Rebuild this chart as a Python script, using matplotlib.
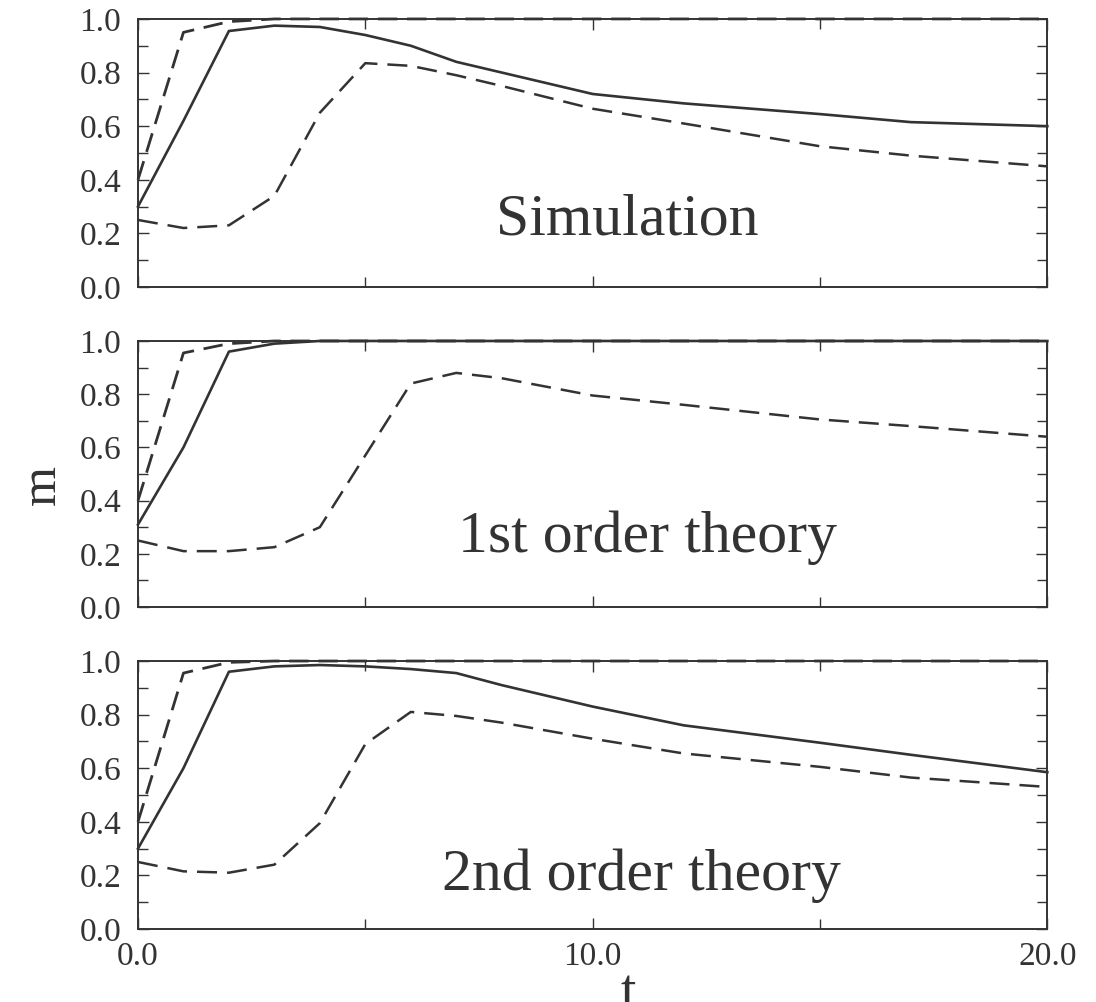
import matplotlib
matplotlib.use("Agg")
import matplotlib.pyplot as plt
from matplotlib.ticker import MultipleLocator, FormatStrFormatter

plt.rcParams['font.family'] = ['Liberation Serif', 'DejaVu Serif']

# tiempos de muestreo
t = [0, 1, 2, 3, 4, 5, 6, 7, 8, 10, 12, 15, 17, 20]

# Simulation
sim_solid = [0.30, 0.62, 0.955, 0.975, 0.97, 0.94, 0.90, 0.84, 0.80, 0.72, 0.685, 0.645, 0.615, 0.60]
sim_upper = [0.40, 0.95, 0.99, 1.0, 1.0, 1.0, 1.0, 1.0, 1.0, 1.0, 1.0, 1.0, 1.0, 1.0]
sim_lower = [0.25, 0.22, 0.23, 0.34, 0.65, 0.835, 0.825, 0.79, 0.75, 0.665, 0.61, 0.525, 0.49, 0.45]

# 1st order theory
first_solid = [0.31, 0.60, 0.96, 0.99, 1.0, 1.0, 1.0, 1.0, 1.0, 1.0, 1.0, 1.0, 1.0, 1.0]
first_upper = [0.40, 0.955, 0.99, 1.0, 1.0, 1.0, 1.0, 1.0, 1.0, 1.0, 1.0, 1.0, 1.0, 1.0]
first_lower = [0.25, 0.21, 0.21, 0.225, 0.30, 0.57, 0.84, 0.88, 0.86, 0.795, 0.76, 0.705, 0.68, 0.64]

# 2nd order theory
second_solid = [0.30, 0.60, 0.96, 0.98, 0.985, 0.98, 0.97, 0.955, 0.91, 0.83, 0.76, 0.695, 0.65, 0.585]
second_upper = [0.40, 0.955, 0.995, 1.0, 1.0, 1.0, 1.0, 1.0, 1.0, 1.0, 1.0, 1.0, 1.0, 1.0]
second_lower = [0.25, 0.215, 0.21, 0.24, 0.395, 0.69, 0.81, 0.795, 0.77, 0.71, 0.655, 0.605, 0.565, 0.53]

panels = [
    ("Simulation", sim_solid, sim_upper, sim_lower, (0.538, 0.194)),
    ("1st order theory", first_solid, first_upper, first_lower, (0.56, 0.207)),
    ("2nd order theory", second_solid, second_upper, second_lower, (0.554, 0.146)),
]

ink = "#333333"
fig = plt.figure(figsize=(10.96, 10.02), dpi=100)

left, width = 0.1259, 0.8297
bottoms = [0.7136, 0.3942, 0.0729]
heights = [0.2675, 0.2655, 0.2674]

for i, (title, solid, upper, lower, pos) in enumerate(panels):
    ax = fig.add_axes([left, bottoms[i], width, heights[i]])
    ax.plot(t, upper, color=ink, lw=2.0, dashes=(7, 3.5), clip_on=False, zorder=3)
    ax.plot(t, lower, color=ink, lw=1.8, dashes=(8, 4), clip_on=False, zorder=3)
    ax.plot(t, solid, color=ink, lw=1.9, clip_on=False, zorder=3)

    ax.set_xlim(0, 20)
    ax.set_ylim(0, 1.0)
    ax.xaxis.set_major_locator(MultipleLocator(10))
    ax.xaxis.set_minor_locator(MultipleLocator(5))
    ax.yaxis.set_major_locator(MultipleLocator(0.2))
    ax.yaxis.set_minor_locator(MultipleLocator(0.1))
    ax.xaxis.set_major_formatter(FormatStrFormatter("%.1f"))
    ax.yaxis.set_major_formatter(FormatStrFormatter("%.1f"))
    ax.tick_params(which="both", direction="in", top=True, right=True,
                   colors=ink, labelsize=24, width=1.0)
    ax.tick_params(which="major", length=8)
    ax.tick_params(which="minor", length=7)
    ax.tick_params(axis="y", which="major", pad=12)
    ax.tick_params(axis="x", which="major", pad=9)
    if i < 2:
        ax.tick_params(labelbottom=False)
    for sp in ax.spines.values():
        sp.set_linewidth(1.4)
        sp.set_color(ink)

    ax.text(pos[0], pos[1], title, transform=ax.transAxes, ha="center",
            va="baseline", fontsize=43, color=ink)

fig.text(43 / 1096, 1 - 485 / 1002, "m", rotation=90, ha="center", va="center",
         fontsize=37, color=ink)
fig.text(0.5729, -0.006, "t", ha="center", va="baseline", fontsize=40, color=ink)

fig.savefig("out.png", dpi=100)
